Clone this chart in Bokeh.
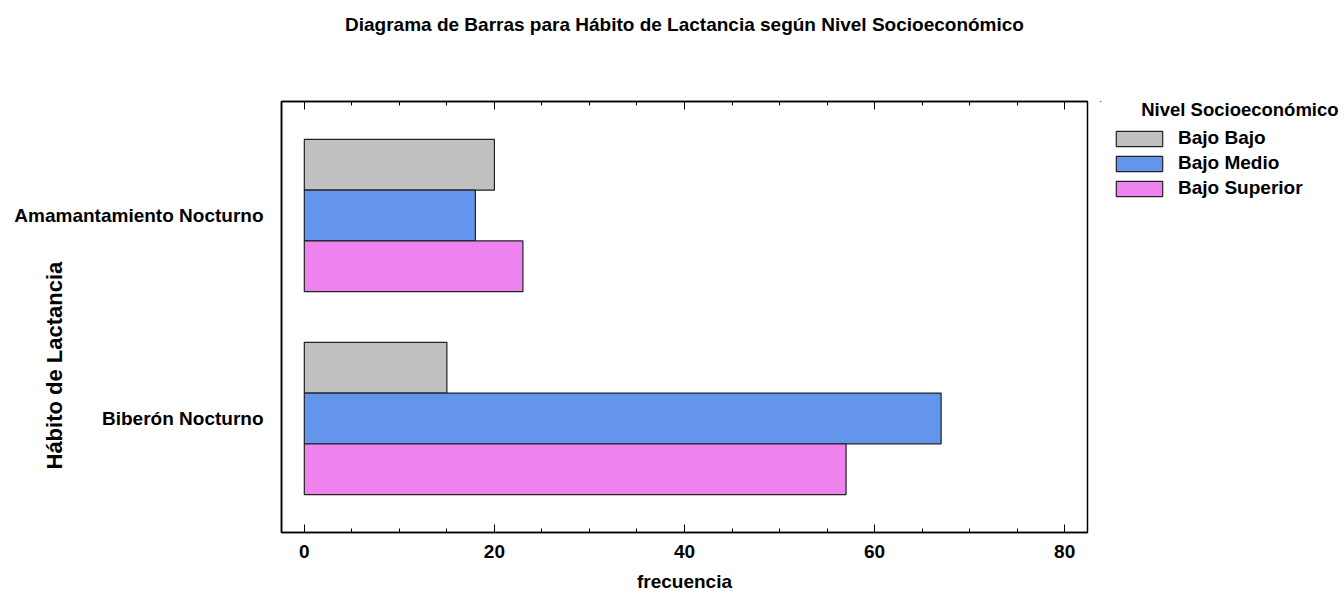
from bokeh.plotting import figure
from bokeh.layouts import row
from bokeh.models import (Range1d, LinearAxis, FixedTicker, SingleIntervalTicker, Title,
                          Legend, LegendItem, ColumnDataSource)
from bokeh.embed import file_html
from bokeh.resources import INLINE

# ---- data ----
categories = ["Amamantamiento Nocturno", "Biberón Nocturno"]
levels = ["Bajo Bajo", "Bajo Medio", "Bajo Superior"]
bajo_bajo = [20, 15]
bajo_medio = [18, 67]
bajo_superior = [23, 57]
colors = ["#C0C0C0", "#6495ED", "#EE82EE"]

title_text = "Diagrama de Barras para Hábito de Lactancia según Nivel Socioeconómico"
x_label = "frecuencia"
y_label = "Hábito de Lactancia"
legend_title = "Nivel Socioeconómico"

FONT = "Liberation Sans"
MAIN_W, LEG_W, H = 1100, 244, 594

p = figure(width=MAIN_W, height=H, output_backend="svg", toolbar_location=None, tools="",
           x_range=Range1d(-2.4, 82.4), y_range=Range1d(0.4384, 2.5616),
           min_border_left=281, min_border_right=MAIN_W - 1087, min_border_top=101,
           min_border_bottom=62)
p.xgrid.visible = False
p.ygrid.visible = False
p.outline_line_color = "black"
p.outline_line_width = 1.5
p.background_fill_color = "white"
p.border_fill_color = "white"

ypos = [len(categories) - i for i in range(len(categories))]
offsets = [0.25, 0.0, -0.25]
series_list = [bajo_bajo, bajo_medio, bajo_superior]
sources = []
for series, color, off in zip(series_list, colors, offsets):
    src = ColumnDataSource(dict(y=[y + off for y in ypos], right=series))
    sources.append(src)
    p.hbar(y="y", left=0, right="right", height=0.25, source=src,
           fill_color=color, line_color="#222222", line_width=1.2)

# x axis (bottom)
xa = p.xaxis[0]
xa.ticker = SingleIntervalTicker(interval=20, num_minor_ticks=4)
xa.major_tick_in = 8
xa.major_tick_out = 0
xa.minor_tick_in = 4
xa.minor_tick_out = 0
xa.major_tick_line_color = "black"
xa.minor_tick_line_color = "black"
xa.axis_line_color = "black"
xa.axis_line_width = 1.5
xa.major_label_standoff = 12
xa.major_label_text_font = FONT
xa.major_label_text_font_style = "bold"
xa.major_label_text_font_size = "19px"
xa.major_label_text_color = "black"
xa.axis_label = x_label
xa.axis_label_standoff = 10
xa.axis_label_text_font = FONT
xa.axis_label_text_font_style = "bold"
xa.axis_label_text_font_size = "19px"
xa.axis_label_text_color = "black"

# top mirrored ticks; its label carries the chart title
ta = LinearAxis(ticker=SingleIntervalTicker(interval=20, num_minor_ticks=4),
                major_tick_in=8, major_tick_out=0, minor_tick_in=4, minor_tick_out=0,
                major_label_text_font_size="0px", major_label_standoff=0,
                axis_line_color="black", axis_line_width=1.5,
                major_tick_line_color="black", minor_tick_line_color="black",
                axis_label=title_text, axis_label_standoff=67,
                axis_label_text_font=FONT, axis_label_text_font_style="bold",
                axis_label_text_font_size="19px", axis_label_text_color="black")
p.add_layout(ta, "above")

# y axis
ya = p.yaxis[0]
ya.ticker = FixedTicker(ticks=ypos)
ya.major_label_overrides = {y: c for y, c in zip(ypos, categories)}
ya.major_tick_line_color = None
ya.minor_tick_line_color = None
ya.major_tick_out = 0
ya.major_tick_in = 0
ya.axis_line_color = "black"
ya.axis_line_width = 1.5
ya.major_label_standoff = 18
ya.major_label_text_font = FONT
ya.major_label_text_font_style = "bold"
ya.major_label_text_font_size = "19px"
ya.major_label_text_color = "black"

# y axis title, shifted down like the reference
yt = Title(text=y_label, align="left", offset=63, standoff=-110, vertical_align="bottom",
           text_font=FONT, text_font_style="bold", text_font_size="22px", text_color="black")
p.add_layout(yt, "left")

# ---- legend panel (separate figure to the right of the chart) ----
# its ranges keep the swatch renderers' own bars far out of view
pl = figure(width=LEG_W, height=H, output_backend="svg", toolbar_location=None, tools="",
            x_axis_type=None, y_axis_type=None, x_range=Range1d(1000, 1001),
            y_range=Range1d(-1001, -1000), min_border=0)
pl.outline_line_color = None
pl.xgrid.visible = False
pl.ygrid.visible = False
pl.background_fill_color = "white"
pl.border_fill_color = "white"

items = []
for name, color, src in zip(levels, colors, sources):
    r = pl.hbar(y="y", left=0, right="right", height=0.25, source=src, fill_color=color,
                line_color="#222222", line_width=1.2)
    items.append(LegendItem(label=name, renderers=[r]))

legend = Legend(items=items, location=(10, 333), orientation="vertical", ncols=1,
                glyph_width=58, glyph_height=19, label_standoff=10, spacing=3,
                label_height=15, padding=0, margin=0, border_line_color=None,
                background_fill_alpha=0, label_text_font=FONT,
                label_text_font_style="bold", label_text_font_size="19px",
                label_text_color="black")
pl.add_layout(legend)

lt = Title(text=legend_title, align="left", offset=40.7, standoff=-36, vertical_align="bottom",
           text_font=FONT, text_font_style="bold", text_font_size="18.5px", text_color="black")
pl.add_layout(lt, "above")

layout = row(p, pl, spacing=0)
open("out.html", "w").write(file_html(layout, INLINE))
